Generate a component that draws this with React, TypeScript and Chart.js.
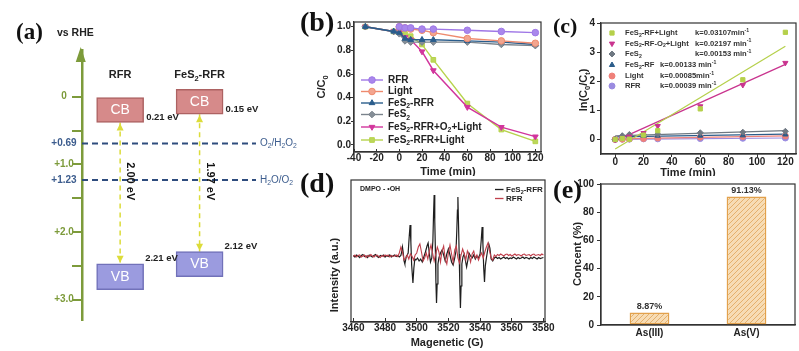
import React, { useEffect, useRef } from 'react';
import { Chart, registerables, PointElement } from 'chart.js';
Chart.register(...registerables);

const FONT = "'Liberation Sans', Arial, Helvetica, sans-serif";
const SERIF = "'Liberation Serif', 'Times New Roman', serif";
const INK = '#222';
const FRAME = '#333';
Chart.defaults.font.family = FONT;

// ---------------- (a) band diagram ----------------
const aMaterials = ['RFR', 'FeS_{2}-RFR'];
const aPositions = [1, 2];
const aCB = [[0, 0.38], [-0.11, 0.26]];
const aVB = [[2.47, 2.85], [2.29, 2.66]];
const aCBLabels = ['0.21 eV', '0.15 eV'];
const aVBLabels = ['2.21 eV', '2.12 eV'];
const aGapLabels = ['2.00 eV', '1.97 eV'];
const aRedox = [0.69, 1.23];
const aRedoxLabels = ['O_{2}/H_{2}O_{2}', 'H_{2}O/O_{2}'];
const aTicks = [0, 0.5, 0.69, 1.0, 1.23, 1.5, 2.0, 2.5, 3.0];
const aTickLabels = ['0', '', '+0.69', '+1.0', '+1.23', '', '+2.0', '', '+3.0'];

// ---------------- (b) C/C0 vs time ----------------
const bTime = [-30, -5, 0, 5, 10, 20, 30, 60, 90, 120];
const bRFR = [null, null, 1.0, 0.99, 0.99, 0.98, 0.98, 0.97, 0.96, 0.95];
const bLight = [null, null, 1.0, 0.99, 0.98, 0.97, 0.95, 0.9, 0.88, 0.86];
const bFeS2RFR = [1.0, 0.96, 0.95, 0.9, 0.89, 0.89, 0.89, 0.88, 0.87, 0.85];
const bFeS2 = [1.0, 0.96, 0.94, 0.88, 0.87, 0.87, 0.87, 0.87, 0.85, 0.84];
const bO2Light = [1.0, 0.96, 0.95, 0.91, 0.89, 0.79, 0.63, 0.32, 0.15, 0.07];
const bRFRLight = [1.0, 0.96, 0.97, 0.94, 0.92, 0.85, 0.72, 0.35, 0.13, 0.03];
const bNames = ['RFR', 'Light', 'FeS_{2}-RFR', 'FeS_{2}', 'FeS_{2}-RFR+O_{2}+Light', 'FeS_{2}-RFR+Light'];
const bXTicks = [-40, -20, 0, 20, 40, 60, 80, 100, 120];
const bYTicks = [0, 0.2, 0.4, 0.6, 0.8, 1.0];

// ---------------- (c) kinetics ----------------
const cTime = [0, 5, 10, 20, 30, 60, 90, 120];
const cRFRLight = [0, 0.03, 0.01, 0.15, 0.3, 1.05, 2.05, 3.68];
const cO2Light = [0, 0.05, 0.1, 0.22, 0.46, 1.14, 1.87, 2.63];
const cFeS2 = [0, 0.13, 0.17, 0.17, 0.18, 0.23, 0.25, 0.28];
const cFeS2RF = [0, 0.1, 0.12, 0.12, 0.13, 0.13, 0.14, 0.17];
const cLight = [0, 0.01, 0.02, 0.03, 0.05, 0.08, 0.1, 0.12];
const cRFR = [0, 0.01, 0.01, 0.02, 0.02, 0.03, 0.04, 0.05];
const cFitX = [0, 120];
const cFitStart = [-0.33, -0.05, 0.12, 0.09, 0.02, 0.0];
const cFitEnd = [3.2, 2.58, 0.3, 0.18, 0.12, 0.05];
const cNames = ['FeS_{2}-RF+Light', 'FeS_{2}-RF-O_{2}+Light', 'FeS_{2}', 'FeS_{2}-RF', 'Light', 'RFR'];
const cRates = ['k=0.03107min^{-1}', 'k=0.02197 min^{-1}', 'k=0.00153 min^{-1}', 'k=0.00133 min^{-1}', 'k=0.00085min^{-1}', 'k=0.00039 min^{-1}'];
const cXTicks = [0, 20, 40, 60, 80, 100, 120];
const cYTicks = [0, 1, 2, 3, 4];

// ---------------- (d) EPR ----------------
const dFeS2RFR = [
  [3460, 0.05], [3461, -0.1], [3462, 0.1], [3463, 0], [3464, -0.15], [3465, 0.05], [3466, 0.15], [3467, -0.05], [3468, 0], [3469, -0.15],
  [3470, 0.1], [3471, 0], [3472, -0.1], [3473, 0.05], [3474, 0.15], [3475, -0.05], [3476, -0.15], [3477, 0.05], [3478, 0], [3479, 0.1],
  [3480, -0.1], [3481, 0.05], [3482, -0.05], [3483, 0.1], [3484, -0.1], [3485, 0], [3486, 0.1], [3487, -0.05], [3488, 0.05], [3489, -0.1],
  [3490, 0.05], [3490.5, 0.4], [3491, 0.9], [3491.5, 0.3], [3492, -0.5], [3492.5, -0.8], [3493, -0.4], [3493.5, 0], [3494, 0.1],
  [3494.6, 0.3], [3495.2, 1.8], [3495.8, 3.1], [3496.3, 1.4], [3496.8, -0.9], [3497.6, -2.7], [3498.2, -1.2], [3498.8, -0.3],
  [3499.5, -0.4], [3500.5, -0.2], [3501.5, -0.5], [3502.5, -0.3], [3503.5, -0.6], [3504.5, -0.1], [3505.5, 0.4], [3506.5, 1.0],
  [3507.2, 1.3], [3508, 0.2], [3508.7, -0.6], [3509.5, -0.2], [3510.2, 1.5], [3510.6, 4.0], [3511, 6.1], [3511.4, 3.5], [3511.8, 0.5],
  [3512.1, -2.5], [3512.5, -4.7], [3512.9, -2.8], [3513.4, -0.8], [3514, -0.2], [3515, 0.3], [3516, 0.6], [3517, 0.1], [3518, -0.5],
  [3519, 0.2], [3520, 0.7], [3521, 0.1], [3522, -0.6], [3523, -0.9], [3524, -0.2], [3524.8, 0.5], [3525.3, 2.5], [3525.7, 4.6],
  [3526, 5.9], [3526.4, 3.2], [3526.8, 0.2], [3527.2, -2.8], [3527.6, -5.2], [3528, -3.0], [3528.5, -0.8], [3529.2, -0.1], [3530, 0.2],
  [3530.8, -0.5], [3531.5, -1.1], [3532.3, -0.4], [3533, 0.3], [3534, 0], [3535, -0.2], [3536, 0.1], [3537, -0.3], [3538, 0],
  [3539, -0.2], [3540, 0.2], [3540.7, 1.5], [3541.3, 2.9], [3541.8, 1.2], [3542.3, -1.2], [3542.8, -2.6], [3543.3, -1.0], [3544, -0.2],
  [3544.8, 0.6], [3545.5, 1.2], [3546.2, 0.8], [3547, -0.3], [3548, -0.5], [3549, -0.2], [3550, -0.1], [3551, -0.25], [3552, -0.15],
  [3553, -0.3], [3554, -0.2], [3555, -0.1], [3556, -0.25], [3557, -0.15], [3558, -0.3], [3559, -0.2], [3560, -0.25], [3561, -0.1],
  [3562, -0.2], [3563, -0.3], [3564, -0.15], [3565, -0.25], [3566, -0.2], [3567, -0.1], [3568, -0.25], [3569, -0.15], [3570, -0.2],
  [3571, -0.3], [3572, -0.15], [3573, -0.25], [3574, -0.1], [3575, -0.2], [3576, -0.3], [3577, -0.15], [3578, -0.25], [3579, -0.2], [3580, -0.15],
];
const dRFR = [
  [3460, -0.05], [3461, 0.1], [3462, -0.1], [3463, 0.05], [3464, 0.1], [3465, -0.1], [3466, 0], [3467, 0.1], [3468, -0.15], [3469, 0.05],
  [3470, -0.05], [3471, 0.15], [3472, 0], [3473, -0.1], [3474, 0.05], [3475, 0.1], [3476, -0.05], [3477, -0.15], [3478, 0.05], [3479, -0.05],
  [3480, 0.1], [3481, 0], [3482, 0.1], [3483, -0.1], [3484, 0.05], [3485, -0.05], [3486, 0], [3487, 0.1], [3488, -0.05], [3489, 0.3],
  [3490, 0.9], [3491, 0.4], [3492, -0.4], [3493, -0.2], [3494, 0.1], [3495, -0.3], [3496, 0.2], [3497, 0], [3498, -0.4], [3499, 0.1],
  [3500, 0.3], [3501, 0.9], [3502, 1.2], [3503, 0.4], [3504, -0.5], [3505, -0.2], [3506, 0.3], [3507, -0.3], [3508, 0.5], [3509, 1.1],
  [3510, 0.3], [3511, -0.5], [3512, 0.2], [3513, 0.9], [3514, 0.4], [3515, -0.6], [3516, 0.5], [3517, 1.0], [3518, -0.3], [3519, -0.8],
  [3520, 0.3], [3521, 1.1], [3522, 0.2], [3523, -0.6], [3524, 0.6], [3525, 1.0], [3526, -0.2], [3527, -0.7], [3528, 0.1], [3529, 0.7],
  [3530, 0.2], [3531, -0.4], [3532, 0.5], [3533, 0.1], [3534, -0.6], [3535, 0.2], [3536, 0.5], [3537, -0.2], [3538, 0.1], [3539, -0.4],
  [3540, 0], [3541, 0.3], [3542, -0.2], [3543, 0.4], [3544, 0.9], [3545, 1.3], [3546, 0.5], [3547, -0.2], [3548, -0.4], [3549, 0.1],
  [3550, -0.05], [3551, 0.15], [3552, 0.05], [3553, 0.2], [3554, 0.1], [3555, 0], [3556, 0.15], [3557, 0.2], [3558, 0.05], [3559, 0.15],
  [3560, 0], [3561, 0.1], [3562, 0.2], [3563, 0.05], [3564, 0.15], [3565, 0.1], [3566, 0], [3567, 0.15], [3568, 0.2], [3569, 0.05],
  [3570, 0.1], [3571, 0.15], [3572, 0], [3573, 0.15], [3574, 0.2], [3575, 0.05], [3576, 0.1], [3577, 0.15], [3578, 0.05], [3579, 0.2], [3580, 0.1],
];
const dNames = ['FeS_{2}-RFR', 'RFR'];
const dXTicks = [3460, 3480, 3500, 3520, 3540, 3560, 3580];

// ---------------- (e) speciation ----------------
const eCategories = ['As(III)', 'As(V)'];
const eValues = [8.87, 91.13];
const eYTicks = [0, 20, 40, 60, 80, 100];

// ---------------- helpers ----------------
type RichOpts = { size: number; bold?: boolean; family?: string; color?: string; align?: 'left' | 'center' | 'right' };

function parseRich(s: string) {
  const out: { t: string; m: number }[] = [];
  let buf = '';
  for (let i = 0; i < s.length; i++) {
    const c = s[i];
    if ((c === '_' || c === '^') && s[i + 1] === '{') {
      if (buf) { out.push({ t: buf, m: 0 }); buf = ''; }
      const end = s.indexOf('}', i);
      out.push({ t: s.slice(i + 2, end), m: c === '_' ? 1 : 2 });
      i = end;
    } else buf += c;
  }
  if (buf) out.push({ t: buf, m: 0 });
  return out;
}

function drawRich(ctx: any, s: string, x: number, y: number, o: RichOpts) {
  const parts = parseRich(s);
  const fam = o.family || FONT;
  const f = (m: number) => `${o.bold ? 'bold ' : ''}${m ? o.size * 0.68 : o.size}px ${fam}`;
  const ws = parts.map((p) => { ctx.font = f(p.m); return ctx.measureText(p.t).width; });
  const total = ws.reduce((a, b) => a + b, 0);
  let cx = o.align === 'center' ? x - total / 2 : o.align === 'right' ? x - total : x;
  ctx.fillStyle = o.color || INK;
  ctx.textAlign = 'left';
  ctx.textBaseline = 'middle';
  parts.forEach((p, i) => {
    ctx.font = f(p.m);
    const dy = p.m === 1 ? o.size * 0.32 : p.m === 2 ? -o.size * 0.38 : 0;
    ctx.fillText(p.t, cx, y + dy);
    cx += ws[i];
  });
}

function drawRot(ctx: any, s: string, x: number, y: number, angle: number, o: RichOpts) {
  ctx.save();
  ctx.translate(x, y);
  ctx.rotate(angle);
  drawRich(ctx, s, 0, 0, { ...o, align: 'center' });
  ctx.restore();
}

const framePlugin = {
  id: 'frame',
  afterDatasetsDraw(chart: any) {
    const { ctx, chartArea: a } = chart;
    ctx.save();
    ctx.strokeStyle = FRAME;
    ctx.lineWidth = 1.2;
    ctx.strokeRect(a.left, a.top, a.right - a.left, a.bottom - a.top);
    ctx.restore();
  },
};

function linAxis(min: number, max: number, ticks: number[], size: number, tl: number, pad: number, fmt: (v: number) => string, isX: boolean) {
  return {
    type: 'linear',
    min,
    max,
    offset: false,
    afterBuildTicks: (s: any) => { s.ticks = ticks.map((v) => ({ value: v })); },
    afterFit: (s: any) => {
      if (isX) s.height = size; else s.width = size;
      s.paddingLeft = 0; s.paddingRight = 0; s.paddingTop = 0; s.paddingBottom = 0;
    },
    grid: { drawOnChartArea: false, drawTicks: true, tickLength: tl, color: FRAME, lineWidth: 1 },
    border: { display: true, color: FRAME, width: 1.2 },
    ticks: {
      padding: pad, autoSkip: false, maxRotation: 0, minRotation: 0, color: INK,
      font: { family: FONT, size: 10, weight: 'bold' },
      callback: (v: any) => fmt(Number(v)),
    },
  };
}

function baseOptions(padding: any) {
  return {
    responsive: false,
    animation: false,
    devicePixelRatio: 1,
    layout: { padding, autoPadding: false },
    plugins: { legend: { display: false }, tooltip: { enabled: false }, title: { display: false } },
  };
}

function legendPoint(ctx: any, chart: any, i: number, x: number, y: number) {
  const el = chart.getDatasetMeta(i).data.find((e: any) => !e.skip);
  if (!el) return;
  const pe: any = new (PointElement as any)({ x, y, options: el.options });
  pe.draw(ctx);
}

// ---------------- (a) ----------------
const A_GREEN = '#7D9B3B';
const A_BLUE = '#3D5D8E';
const A_DASH = '#2E4C7D';
const A_YELLOW = '#DCDC3A';
const A_XMIN = 0.52;
const A_XMAX = 2.71;

function arrowhead(ctx: any, x: number, tip: number, dir: number) {
  ctx.fillStyle = A_YELLOW;
  ctx.beginPath();
  ctx.moveTo(x, tip);
  ctx.lineTo(x - 3.5, tip - dir * 7);
  ctx.lineTo(x + 3.5, tip - dir * 7);
  ctx.closePath();
  ctx.fill();
}

function buildA() {
  const aPlugin = {
    id: 'aText',
    afterDraw(chart: any) {
      const { ctx, chartArea: ca } = chart;
      const x = chart.scales.x;
      const y = chart.scales.y;
      ctx.save();
      const ax = ca.left - 1.25;
      ctx.fillStyle = A_GREEN;
      ctx.beginPath();
      ctx.moveTo(ax, 47);
      ctx.lineTo(ax - 5, 62);
      ctx.lineTo(ax + 5, 62);
      ctx.closePath();
      ctx.fill();
      drawRich(ctx, '(a)', 16, 33, { size: 23, bold: true, family: SERIF, color: '#111' });
      drawRich(ctx, 'vs RHE', 57, 33, { size: 10.5, bold: true });
      aTicks.forEach((v, i) => {
        const lab = aTickLabels[i];
        if (!lab) return;
        drawRich(ctx, lab, 64, y.getPixelForValue(v), { size: 10, bold: true, align: 'center', color: aRedox.includes(v) ? A_BLUE : A_GREEN });
      });
      aMaterials.forEach((m, i) => drawRich(ctx, m, x.getPixelForValue(aPositions[i]), 75, { size: 11, bold: true, align: 'center' }));
      chart.getDatasetMeta(0).data.forEach((el: any, i: number) => {
        const top = Math.min(el.y, el.base);
        const bot = Math.max(el.y, el.base);
        drawRich(ctx, 'CB', el.x, (top + bot) / 2, { size: 14, color: '#fff', align: 'center' });
        drawRich(ctx, aCBLabels[i], el.x + el.width / 2 + 2.5, bot - 5, { size: 9.5, bold: true });
      });
      chart.getDatasetMeta(1).data.forEach((el: any, i: number) => {
        const top = Math.min(el.y, el.base);
        const bot = Math.max(el.y, el.base);
        drawRich(ctx, 'VB', el.x, (top + bot) / 2, { size: 14, color: '#fff', align: 'center' });
        drawRich(ctx, aVBLabels[i], el.x + el.width / 2 + 1.5, top - 5, { size: 9.5, bold: true });
      });
      aPositions.forEach((pos, i) => {
        const px = x.getPixelForValue(pos);
        arrowhead(ctx, px, y.getPixelForValue(aCB[i][1]) + 1, -1);
        arrowhead(ctx, px, y.getPixelForValue(aVB[i][0]) - 1, 1);
        drawRot(ctx, aGapLabels[i], px + 10, y.getPixelForValue(1.25), Math.PI / 2, { size: 11, bold: true, color: '#111' });
      });
      aRedox.forEach((v, i) => drawRich(ctx, aRedoxLabels[i], ca.right + 4, y.getPixelForValue(v), { size: 10, color: A_BLUE }));
      ctx.restore();
    },
  };
  return {
    type: 'bar',
    data: {
      datasets: [
        { type: 'bar', data: aPositions.map((p, i) => ({ x: p, y: aCB[i] })), backgroundColor: '#D68A8A', borderColor: '#AD6262', borderWidth: 1.5, grouped: false, barThickness: 47, borderSkipped: false },
        { type: 'bar', data: aPositions.map((p, i) => ({ x: p, y: aVB[i] })), backgroundColor: '#9B9BDF', borderColor: '#7171B9', borderWidth: 1.5, grouped: false, barThickness: 47, borderSkipped: false },
        ...aRedox.map((v) => ({ type: 'line', data: [{ x: A_XMIN, y: v }, { x: A_XMAX, y: v }], borderColor: A_DASH, borderWidth: 2, borderDash: [6, 4], pointRadius: 0 })),
        ...aPositions.map((p, i) => ({ type: 'line', data: [{ x: p, y: aCB[i][1] }, { x: p, y: aVB[i][0] }], borderColor: A_YELLOW, borderWidth: 1.5, borderDash: [5, 4], pointRadius: 0 })),
      ],
    },
    options: {
      ...baseOptions({ left: 0, top: 50, right: 44, bottom: 31 }),
      scales: {
        x: { type: 'linear', display: false, offset: false, min: A_XMIN, max: A_XMAX },
        y: {
          type: 'linear', reverse: true, min: -0.69, max: 3.3, position: 'left',
          afterBuildTicks: (s: any) => { s.ticks = aTicks.map((v) => ({ value: v })); },
          afterFit: (s: any) => { s.width = 82; s.paddingTop = 0; s.paddingBottom = 0; },
          ticks: { display: false },
          grid: {
            drawOnChartArea: false, drawTicks: true, tickLength: 10, lineWidth: 2,
            color: (c: any) => (c.tick && aRedox.includes(c.tick.value) ? 'rgba(0,0,0,0)' : A_GREEN),
          },
          border: { display: true, color: A_GREEN, width: 2.5 },
        },
      },
    },
    plugins: [aPlugin],
  };
}

// ---------------- (b) ----------------
const bSeries = [bRFR, bLight, bFeS2RFR, bFeS2, bO2Light, bRFRLight];
const bStyles = [
  { color: '#9F77E6', fill: '#A987EC', style: 'circle', rot: 0 },
  { color: '#EE8A6E', fill: '#F3A58F', style: 'circle', rot: 0 },
  { color: '#2A5D8C', fill: '#2A5D8C', style: 'triangle', rot: 0 },
  { color: '#7A838C', fill: '#858E97', style: 'rectRot', rot: 0 },
  { color: '#D2359C', fill: '#D2359C', style: 'triangle', rot: 180 },
  { color: '#B7D34C', fill: '#BCD75A', style: 'rect', rot: 0 },
];
const bLegendRows = [80, 91.5, 103, 114.5, 127, 140];

function buildB() {
  const bPlugin = {
    id: 'bText',
    afterDraw(chart: any) {
      const ctx = chart.ctx;
      ctx.save();
      drawRich(ctx, '(b)', 0, 24, { size: 28, bold: true, family: SERIF, color: '#111' });
      drawRot(ctx, 'C/C_{0}', 22, 87, -Math.PI / 2, { size: 11, bold: true });
      drawRich(ctx, 'Time (min)', 148, 172, { size: 11, bold: true, align: 'center' });
      bNames.forEach((n, i) => {
        const yy = bLegendRows[i];
        ctx.strokeStyle = bStyles[i].color;
        ctx.lineWidth = 1.4;
        ctx.beginPath();
        ctx.moveTo(61, yy);
        ctx.lineTo(83, yy);
        ctx.stroke();
        legendPoint(ctx, chart, i, 72, yy);
        drawRich(ctx, n, 88, yy, { size: 10, bold: true });
      });
      ctx.restore();
    },
  };
  return {
    type: 'line',
    data: {
      datasets: bSeries.map((vals, i) => ({
        data: bTime.map((t, j) => ({ x: t, y: vals[j] })),
        borderColor: bStyles[i].color,
        backgroundColor: bStyles[i].fill,
        pointBackgroundColor: bStyles[i].fill,
        pointBorderColor: bStyles[i].color,
        pointStyle: bStyles[i].style,
        pointRotation: bStyles[i].rot,
        pointRadius: 3.3,
        pointBorderWidth: 1,
        borderWidth: 1.4,
        spanGaps: true,
        tension: 0,
      })),
    },
    options: {
      ...baseOptions({ left: 0, top: 22, right: 12, bottom: 0 }),
      scales: {
        x: linAxis(-40, 125, bXTicks, 24, -3, 3, (v) => String(v), true),
        y: linAxis(-0.06, 1.04, bYTicks, 54, 3, 0, (v) => v.toFixed(1), false),
      },
    },
    plugins: [framePlugin, bPlugin],
  };
}

// ---------------- (c) ----------------
const cSeries = [cRFRLight, cO2Light, cFeS2, cFeS2RF, cLight, cRFR];
const cStyles = [
  { color: '#B5D04A', style: 'rect', rot: 0 },
  { color: '#C9338E', style: 'triangle', rot: 180 },
  { color: '#6F7882', style: 'rectRot', rot: 0 },
  { color: '#2B5C8A', style: 'triangle', rot: 0 },
  { color: '#EF8079', style: 'circle', rot: 0 },
  { color: '#9A8BE0', style: 'circle', rot: 0 },
];
const cLegendRows = [33, 43.6, 54, 65, 76, 86];
const cRateX = [142, 142, 142, 107, 107, 107];

function buildC() {
  const cPlugin = {
    id: 'cText',
    afterDraw(chart: any) {
      const ctx = chart.ctx;
      ctx.save();
      drawRich(ctx, '(c)', 0, 27, { size: 22, bold: true, family: SERIF, color: '#111' });
      drawRot(ctx, 'ln(C_{0}/C_{t})', 31, 90, -Math.PI / 2, { size: 11, bold: true });
      drawRich(ctx, 'Time (min)', 135, 173, { size: 11, bold: true, align: 'center' });
      cNames.forEach((n, i) => {
        const yy = cLegendRows[i];
        legendPoint(ctx, chart, i, 59, yy);
        drawRich(ctx, n, 72, yy, { size: 7.6, bold: true, color: '#333' });
        drawRich(ctx, cRates[i], cRateX[i], yy, { size: 7.6, bold: true, color: '#333' });
      });
      ctx.restore();
    },
  };
  const pointSets = cSeries.map((vals, i) => ({
    data: cTime.map((t, j) => ({ x: t, y: vals[j] })),
    showLine: false,
    borderColor: cStyles[i].color,
    backgroundColor: cStyles[i].color,
    pointStyle: cStyles[i].style,
    pointRotation: cStyles[i].rot,
    pointRadius: 3,
    pointBorderWidth: 1,
  }));
  const fitSets = cSeries.map((_, i) => ({
    data: cFitX.map((t, j) => ({ x: t, y: j === 0 ? cFitStart[i] : cFitEnd[i] })),
    borderColor: cStyles[i].color,
    borderWidth: 1.2,
    pointRadius: 0,
    tension: 0,
  }));
  return {
    type: 'line',
    data: { datasets: [...pointSets, ...fitSets] },
    options: {
      ...baseOptions({ left: 0, top: 23, right: 3, bottom: 0 }),
      scales: {
        x: linAxis(-10, 127.5, cXTicks, 22, 3, -1, (v) => String(v), true),
        y: linAxis(-0.5, 4, cYTicks, 48, 4, 2, (v) => String(v), false),
      },
    },
    plugins: [framePlugin, cPlugin],
  };
}

// ---------------- (d) ----------------
function buildD() {
  const dColors = ['#1E1E1E', '#C0404C'];
  const dPlugin = {
    id: 'dText',
    afterDraw(chart: any) {
      const ctx = chart.ctx;
      ctx.save();
      drawRich(ctx, '(d)', 0, 15, { size: 28, bold: true, family: SERIF, color: '#111' });
      drawRot(ctx, 'Intensity (a.u.)', 35, 105, -Math.PI / 2, { size: 11, bold: true });
      drawRich(ctx, 'Magenetic (G)', 147, 173, { size: 11, bold: true, align: 'center' });
      drawRich(ctx, 'DMPO - •OH', 60, 19.5, { size: 7, bold: true });
      dNames.forEach((n, i) => {
        const yy = 19.5 + i * 9;
        ctx.strokeStyle = dColors[i];
        ctx.lineWidth = 1.3;
        ctx.beginPath();
        ctx.moveTo(195, yy);
        ctx.lineTo(203.5, yy);
        ctx.stroke();
        drawRich(ctx, n, 206, yy, { size: 8, bold: true });
      });
      ctx.restore();
    },
  };
  return {
    type: 'line',
    data: {
      datasets: [
        { data: dRFR.map((p) => ({ x: p[0], y: p[1] })), borderColor: dColors[1], borderWidth: 1.1, pointRadius: 0, tension: 0 },
        { data: dFeS2RFR.map((p) => ({ x: p[0], y: p[1] })), borderColor: dColors[0], borderWidth: 1.2, pointRadius: 0, tension: 0 },
      ],
    },
    options: {
      ...baseOptions({ left: 51, top: 10, right: 15, bottom: 0 }),
      scales: {
        x: linAxis(3458.5, 3581, dXTicks, 29, -4, 4, (v) => String(v), true),
        y: { type: 'linear', display: false, min: -6.6, max: 7.6 },
      },
    },
    plugins: [framePlugin, dPlugin],
  };
}

// ---------------- (e) ----------------
function makeHatch() {
  const c = document.createElement('canvas');
  c.width = 5;
  c.height = 5;
  const g = c.getContext('2d') as CanvasRenderingContext2D;
  g.fillStyle = '#F7DCB4';
  g.fillRect(0, 0, 5, 5);
  g.strokeStyle = '#E5B06C';
  g.lineWidth = 1;
  g.beginPath();
  g.moveTo(0, 5); g.lineTo(5, 0);
  g.moveTo(-1, 1); g.lineTo(1, -1);
  g.moveTo(4, 6); g.lineTo(6, 4);
  g.stroke();
  return g.createPattern(c, 'repeat');
}

function buildE() {
  const ePlugin = {
    id: 'eText',
    afterDraw(chart: any) {
      const ctx = chart.ctx;
      ctx.save();
      drawRich(ctx, '(e)', 0, 21, { size: 26, bold: true, family: SERIF, color: '#111' });
      drawRot(ctx, 'Concent (%)', 25, 84, -Math.PI / 2, { size: 11, bold: true });
      chart.getDatasetMeta(0).data.forEach((el: any, i: number) => {
        drawRich(ctx, eValues[i].toFixed(2) + '%', el.x, el.y - 6, { size: 9, bold: true, align: 'center', color: '#333' });
      });
      ctx.restore();
    },
  };
  return {
    type: 'bar',
    data: {
      labels: eCategories,
      datasets: [{
        data: eValues, backgroundColor: makeHatch(), borderColor: '#E2A14C', borderWidth: 1.5,
        borderSkipped: false, barPercentage: 0.41, categoryPercentage: 1,
      }],
    },
    options: {
      ...baseOptions({ left: 0, top: 14, right: 4, bottom: 0 }),
      scales: {
        x: {
          type: 'category',
          afterFit: (s: any) => { s.height = 26; s.paddingLeft = 0; s.paddingRight = 0; },
          grid: { display: false, drawTicks: false },
          border: { display: true, color: FRAME, width: 1.2 },
          ticks: { padding: 2.5, color: INK, font: { family: FONT, size: 10, weight: 'bold' } },
        },
        y: linAxis(0, 100, eYTicks, 48, 4, 3, (v) => String(v), false),
      },
    },
    plugins: [framePlugin, ePlugin],
  };
}

// ---------------- React ----------------
function ChartCanvas({ x, y, w, h, build }: { x: number; y: number; w: number; h: number; build: () => any }) {
  const ref = useRef<HTMLCanvasElement | null>(null);
  useEffect(() => {
    if (!ref.current) return;
    const chart = new Chart(ref.current, build());
    return () => chart.destroy();
  }, [build]);
  return <canvas ref={ref} width={w} height={h} style={{ position: 'absolute', left: x, top: y, width: w, height: h }} />;
}

export default function App() {
  return (
    <div style={{ position: 'fixed', left: 0, top: 0, width: 799, height: 351, background: '#fff', overflow: 'hidden' }}>
      <ChartCanvas x={0} y={0} w={300} h={351} build={buildA} />
      <ChartCanvas x={300} y={0} w={253} h={176} build={buildB} />
      <ChartCanvas x={553} y={0} w={246} h={176} build={buildC} />
      <ChartCanvas x={300} y={170} w={260} h={181} build={buildD} />
      <ChartCanvas x={553} y={170} w={246} h={181} build={buildE} />
    </div>
  );
}
